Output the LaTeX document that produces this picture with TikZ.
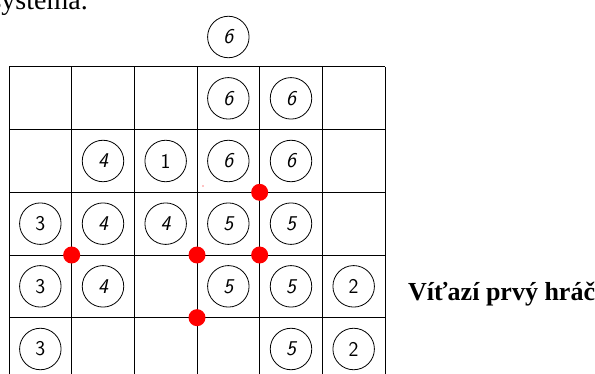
\documentclass[tikz,border=0pt]{standalone}
\usepackage{fontspec}
\setmainfont{Liberation Serif}
\tikzset{
  gridline/.style={line width=1pt, black},
  coin/.style={circle, draw, line width=0.8pt, minimum size=41.5pt, inner sep=0pt,
    font=\sffamily\fontsize{21}{21}\selectfont},
  sl/.style={font=\sffamily\itshape\fontsize{21}{21}\selectfont},
  reddot/.style={circle, fill=red, minimum size=17pt, inner sep=0pt},
  speck/.style={circle, fill=red, minimum size=1.2pt, inner sep=0pt},
  caption/.style={font=\bfseries\fontsize{26}{26}\selectfont, inner sep=0pt, anchor=base west},
  toptext/.style={font=\fontsize{28}{28}\selectfont, inner sep=0pt, anchor=base east}
}
\begin{document}
\begin{tikzpicture}[x=1pt,y=-1pt]
\useasboundingbox (0,0) rectangle (595,374);
\clip (0,0) rectangle (595,374);
\def\cw{62.667}
\foreach \r in {0,...,4} {
  \draw[gridline] (9,{67+\r*\cw}) -- (385,{67+\r*\cw});
}
\foreach \c in {0,...,6} {
  \draw[gridline] ({9+\c*\cw},67) -- ({9+\c*\cw},380);
}
% slanted digits (4,5,6)
\foreach \r/\c/\v in {1/4/6,1/5/6,
  2/2/4,2/4/6,2/5/6,
  3/2/4,3/3/4,3/4/5,3/5/5,
  4/2/4,4/4/5,4/5/5,
  5/5/5} {
  \node[coin,sl] (coin-\r-\c) at ({9+(\c-0.5)*\cw},{67+(\r-0.5)*\cw}) {\v};
}
% upright digits (1,2,3)
\foreach \r/\c/\v in {2/3/1,3/1/3,4/1/3,4/6/2,5/1/3,5/6/2} {
  \node[coin] (coin-\r-\c) at ({9+(\c-0.5)*\cw},{67+(\r-0.5)*\cw}) {\v};
}
\node[coin,sl] (coin-top) at ({9+3.5*\cw},37) {6};
\node[reddot] (d1) at ({9+4*\cw},{67+2*\cw}) {};
\node[reddot] (d2) at ({9+1*\cw},{67+3*\cw}) {};
\node[reddot] (d3) at ({9+3*\cw},{67+3*\cw}) {};
\node[reddot] (d4) at ({9+4*\cw},{67+3*\cw}) {};
\node[reddot] (d5) at ({9+3*\cw},{67+4*\cw}) {};
\node[speck] (sp) at (203,186) {};
\node[toptext] (tt) at (88,9.5) {systéma.};
\node[caption] (cap) at (408,300.5) {Víťazí prvý hráč};
\end{tikzpicture}
\end{document}
